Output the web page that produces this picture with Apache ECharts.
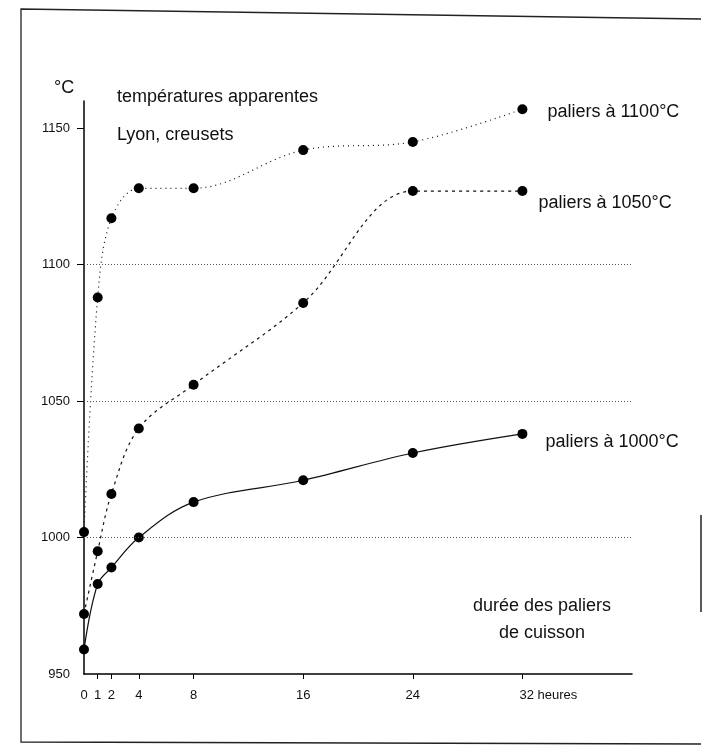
<!DOCTYPE html>
<html>
<head>
<meta charset="utf-8">
<script src="https://cdn.jsdelivr.net/npm/echarts@6/dist/echarts.min.js"></script>
<style>
  html, body { margin: 0; padding: 0; background: #fff; }
  #chart { width: 703px; height: 753px; }
</style>
</head>
<body>
<div id="chart"></div>
<script>
// durée des paliers (heures)
const hours = [0, 1, 2, 4, 8, 16, 24, 32]

// températures apparentes (°C)
const palier1000 = [959, 983, 989, 1000, 1013, 1021, 1031, 1038]
const palier1050 = [972, 995, 1016, 1040, 1056, 1086, 1127, 1127]
const palier1100 = [1002, 1088, 1117, 1128, 1128, 1142, 1145, 1157]

const seriesNames = ['paliers à 1000°C', 'paliers à 1050°C', 'paliers à 1100°C']

const xTickValues = [1, 2, 4, 8, 16, 24, 32]
const xLabelValues = [0, 1, 2, 4, 8, 16, 24, 32]
const yTickValues = [1000, 1050, 1100, 1150]
const yLabelValues = [950, 1000, 1050, 1100, 1150]
const gridValues = [1000, 1050, 1100]

const font = 'Liberation Sans, Arial, sans-serif'

const toPoints = (values, name, labelOffset) => (
  values.map((v, i) => {
    const item = { value: [hours[i], v] }
    if (i === values.length - 1) {
      item.label = {
        show: true,
        position: 'right',
        distance: 8,
        offset: labelOffset,
        formatter: name,
        fontFamily: font,
        fontSize: 18,
        color: '#111'
      }
    }
    return item
  })
)

const lineSeries = (name, values, lineType, labelOffset) => ({
  name,
  type: 'line',
  data: toPoints(values, name, labelOffset),
  smooth: 0.35,
  symbol: 'circle',
  symbolSize: 10,
  itemStyle: { color: '#000' },
  lineStyle: { color: '#111', width: 1.2, type: lineType },
  z: 3
})

const textItem = (text, x, y, align) => ({
  type: 'text',
  x,
  y,
  style: { text, font: '18px ' + font, fill: '#111', align: align || 'left', verticalAlign: 'middle' }
})

const getOption = () => ({
  animation: false,
  backgroundColor: '#fff',
  grid: { left: 84, top: 101, width: 548, height: 573 },
  xAxis: {
    type: 'value',
    min: 0,
    max: 40,
    axisLine: { lineStyle: { color: '#000', width: 1.5 } },
    axisTick: { show: true, length: 5, inside: false, customValues: xTickValues, lineStyle: { color: '#000' } },
    axisLabel: {
      customValues: xLabelValues,
      margin: 15,
      fontFamily: font,
      fontSize: 13,
      color: '#111',
      formatter: v => (v === 32 ? '{p|}32 heures' : String(v)),
      rich: { p: { width: 52 } }
    },
    splitLine: { show: false }
  },
  yAxis: {
    type: 'value',
    min: 950,
    max: 1160,
    axisLine: { show: true, lineStyle: { color: '#000', width: 1.5 } },
    axisTick: { show: true, length: 7, customValues: yTickValues, lineStyle: { color: '#000' } },
    axisLabel: {
      customValues: yLabelValues,
      margin: 14,
      fontFamily: font,
      fontSize: 13,
      color: '#111',
      formatter: v => String(v)
    },
    splitLine: { show: false }
  },
  series: [
    Object.assign(lineSeries(seriesNames[0], palier1000, 'solid', [10, 8]), {
      markLine: {
        silent: true,
        symbol: 'none',
        label: { show: false },
        lineStyle: { color: '#555', width: 1, type: [1, 2] },
        data: gridValues.map(v => ({ yAxis: v }))
      }
    }),
    lineSeries(seriesNames[1], palier1050, [3, 4], [3, 12]),
    lineSeries(seriesNames[2], palier1100, [1, 4], [12, 3])
  ],
  graphic: [
    {
      type: 'polyline',
      shape: { points: [[701, 19], [21, 9], [21, 742], [701, 744]] },
      style: { stroke: '#222', lineWidth: 1.3, fill: null }
    },
    {
      type: 'line',
      shape: { x1: 701, y1: 515, x2: 701, y2: 612 },
      style: { stroke: '#222', lineWidth: 1.5 }
    },
    textItem('°C', 54, 88),
    textItem('températures apparentes', 117, 97),
    textItem('Lyon, creusets', 117, 135),
    textItem('durée des paliers', 542, 606, 'center'),
    textItem('de cuisson', 542, 633, 'center')
  ]
})

const myChart = echarts.init(document.getElementById('chart'), null, { renderer: 'canvas' })
myChart.setOption(getOption())
</script>
</body>
</html>
